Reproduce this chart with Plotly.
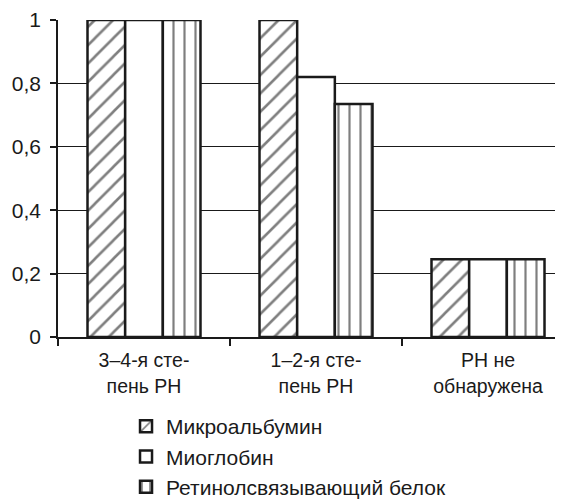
import plotly.graph_objects as go

categories = ["3–4-я сте-<br>пень РН", "1–2-я сте-<br>пень РН", "РН не<br>обнаружена"]
series_names = ["Микроальбумин", "Миоглобин", "Ретинолсвязывающий белок"]
microalbumin = [1.0, 1.0, 0.245]
myoglobin = [1.0, 0.82, 0.245]
retinol = [1.0, 0.735, 0.245]
y_ticks = [0, 0.2, 0.4, 0.6, 0.8, 1.0]
y_labels = ["0", "0,2", "0,4", "0,6", "0,8", "1"]

patterns = [
    dict(shape="/", fgcolor="black", bgcolor="white", size=13, solidity=0.2),
    dict(shape="", fgcolor="black", bgcolor="white"),
    dict(shape="|", fgcolor="black", bgcolor="white", size=11, solidity=0.2),
]

fig = go.Figure()
for i, (name, vals, pat) in enumerate(zip(series_names, [microalbumin, myoglobin, retinol], patterns)):
    fig.add_trace(go.Bar(
        x=categories, y=vals, name=name, legendgroup=f"g{i}",
        marker=dict(color="white", line=dict(color="#1a1a1a", width=2.5), pattern=pat),
    ))

# page has an 8px body margin; figure sized to fit the 563x499 window
W, H = 555, 491
FONT = "Liberation Sans, Arial, sans-serif"
fig.update_layout(
    width=W, height=H,
    margin=dict(l=50, r=0, t=12, b=162, autoexpand=False),
    paper_bgcolor="white", plot_bgcolor="white",
    barmode="group", bargap=0.343, bargroupgap=0,
    font=dict(family=FONT, size=21, color="#1a1a1a"),
    showlegend=True,
    legend=dict(x=0.1347, y=-0.218, xanchor="left", yanchor="top",
                orientation="v", font=dict(family=FONT, size=21), tracegroupgap=0,
                bgcolor="rgba(0,0,0,0)"),
)
fig.update_xaxes(
    type="category", range=[-0.5, 2.436], automargin=False,
    showline=True, linecolor="#1a1a1a", linewidth=1.5,
    ticks="outside", tickson="boundaries", ticklen=7, tickcolor="#1a1a1a", tickwidth=1.5,
    showgrid=False, tickfont=dict(size=19.5), ticklabelstandoff=5, tickangle=0,
)
fig.update_yaxes(
    range=[0, 1.0], tickvals=y_ticks, ticktext=y_labels, automargin=False,
    showline=True, linecolor="#1a1a1a", linewidth=1.5,
    ticks="outside", ticklen=6, tickcolor="#1a1a1a", tickwidth=1.5,
    showgrid=True, gridcolor="#1a1a1a", gridwidth=1.3,
    zeroline=False, tickfont=dict(size=21), ticklabelstandoff=5,
)
fig.write_html("out.html")
